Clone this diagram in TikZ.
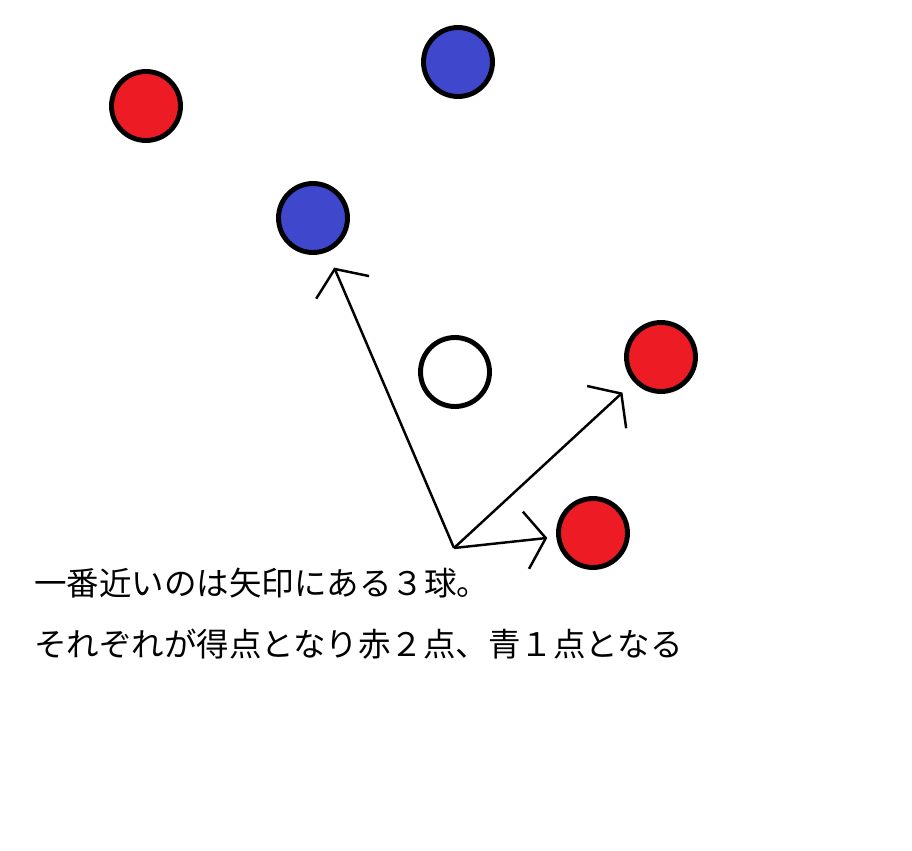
\documentclass[tikz,border=0pt]{standalone}
\usepackage{fontspec}
\newfontfamily\jpfont{Noto Sans CJK JP}
\usetikzlibrary{arrows.meta}
\definecolor{ballred}{HTML}{ED1C24}
\definecolor{ballblue}{HTML}{3F48CC}
\tikzset{
  ball/.style={circle, draw=black, line width=2.8pt, minimum size=1.38cm, inner sep=0pt},
  pointer/.style={line width=1.4pt, -{Straight Barb[length=0.4cm, width=1.15cm]}},
  caption/.style={anchor=base west, inner sep=0pt, font=\jpfont\fontsize{18.5pt}{22pt}\selectfont},
}
\begin{document}
\begin{tikzpicture}[x=0.02cm, y=-0.02cm]
        \useasboundingbox (0,0) rectangle (912,851);                  %
        \node [ball, fill=ballred]  (red1)  at (146,106) {};          %red
        \node [ball, fill=ballblue] (blue1) at (458,62)  {};          %blue
        \node [ball, fill=ballblue] (blue2) at (313,218) {};          %blue
        \node [ball, fill=white]    (jack)  at (455,372) {};          %white
        \node [ball, fill=ballred]  (red2)  at (661,357) {};          %red
        \node [ball, fill=ballred]  (red3)  at (593,533) {};          %red
        \coordinate (o) at (454,548);                                 %
        \draw [pointer, shorten >=0.34cm] (o) -- (blue2);             %
        \draw [pointer, shorten >=0.31cm] (o) -- (red2);              %
        \draw [pointer, shorten >=0.18cm] (o) -- (red3);              %
        \node [caption] (line1) at (34,595) {一番近いのは矢印にある３球。};
        \node [caption] (line2) at (34,656) {それぞれが得点となり赤２点、青１点となる};
       \end{tikzpicture}
\end{document}
